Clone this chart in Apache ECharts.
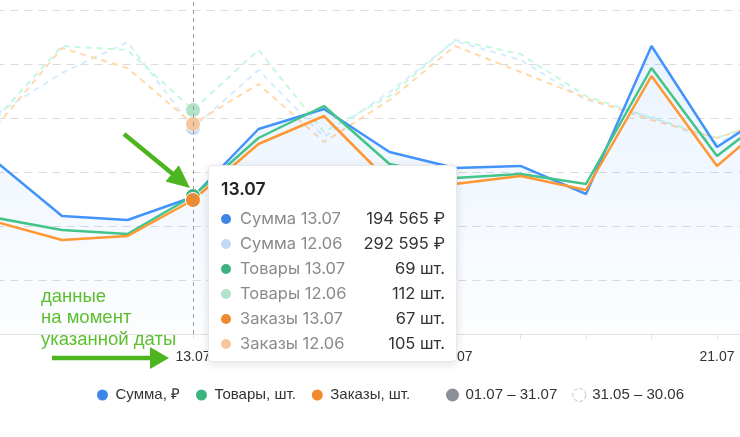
<!DOCTYPE html>
<html>
<head>
<meta charset="utf-8">
<title>Сумма, товары, заказы</title>
<script src="https://cdn.jsdelivr.net/npm/echarts@6/dist/echarts.min.js"></script>
<style>
  html, body { margin: 0; padding: 0; background: #fff; }
  #main { width: 740px; height: 437px; }
</style>
</head>
<body>
<div id="main"></div>
<script>
// дни текущего периода (01.07 – 31.07), видимый кусок
var days = ['10.07', '11.07', '12.07', '13.07', '14.07', '15.07', '16.07', '17.07', '18.07', '19.07', '20.07', '21.07', '22.07'];
// те же позиции в прошлом периоде (31.05 – 30.06)
var prevDays = ['09.06', '10.06', '11.06', '12.06', '13.06', '14.06', '15.06', '16.06', '17.06', '18.06', '19.06', '20.06', '21.06'];

var sumCur = [244200, 167600, 161900, 194565, 291100, 319500, 258400, 235700, 238600, 198800, 409000, 265500, 326600];
var sumPrev = [312400, 370600, 414600, 292595, 374900, 279700, 343600, 416100, 389100, 332300, 308100, 271200, 319500];
var goodsCur = [58, 52, 50, 69, 98, 114, 85, 78, 80, 75, 133, 89, 114];
var goodsPrev = [108, 144, 142, 112, 142, 101, 119, 147, 140, 119, 108, 98, 110];
var ordersCur = [56, 47, 49, 67, 95, 109, 76, 75, 79, 72, 129, 84, 112];
var ordersPrev = [104, 143, 133, 105, 125, 96, 117, 144, 131, 118, 107, 98, 109];

var shownIndex = 3; // 13.07

var blue = '#3d86e6', blueLight = '#c3d7f7';
var green = '#3db37f', greenLight = '#b3e2cb';
var orange = '#ef8a2e', orangeLight = '#f7c69c';
var arrowGreen = '#4cb51f';

function fmt(n) {
    return String(n).replace(/\B(?=(\d{3})+(?!\d))/g, ' ');
}

function row(color, label, value) {
    return '<div style="display:flex;align-items:center;height:25px;line-height:25px;">' +
        '<span style="flex:none;width:10px;height:10px;border-radius:50%;background:' + color + ';margin-right:9px;"></span>' +
        '<span style="flex:1;color:#8a8a8a;">' + label + '</span>' +
        '<span style="color:#333;">' + value + '</span></div>';
}

function arrow(x1, y1, x2, y2, headLen, headHalf) {
    var dx = x2 - x1, dy = y2 - y1;
    var len = Math.sqrt(dx * dx + dy * dy);
    var ux = dx / len, uy = dy / len;
    var bx = x2 - ux * headLen, by = y2 - uy * headLen;
    return [{
        type: 'line', z: 20,
        shape: { x1: x1, y1: y1, x2: bx + ux * 2, y2: by + uy * 2 },
        style: { stroke: arrowGreen, lineWidth: 4.5 }
    }, {
        type: 'polygon', z: 20,
        shape: { points: [[x2, y2], [bx - uy * headHalf, by + ux * headHalf], [bx + uy * headHalf, by - ux * headHalf]] },
        style: { fill: arrowGreen }
    }];
}

function lineSeries(name, data, color, yAxis, dashed) {
    var w = dashed ? 2 : 2.5;
    return {
        name: name,
        type: 'line',
        data: data,
        yAxisIndex: yAxis,
        color: color,
        showSymbol: false,
        symbol: 'circle',
        symbolSize: 15,
        z: dashed ? 2 : 3,
        itemStyle: { color: color, borderColor: '#fff', borderWidth: 1 },
        lineStyle: { color: color, width: w, type: dashed ? [6, 5] : 'solid' },
        emphasis: { scale: false, lineStyle: { width: w } }
    };
}

var myChart = echarts.init(document.getElementById('main'));

var sumSeries = lineSeries('Сумма, ₽', sumCur, blue, 1, false);
sumSeries.areaStyle = {
    color: new echarts.graphic.LinearGradient(0, 0, 0, 1, [
        { offset: 0, color: 'rgba(61,134,230,0.16)' },
        { offset: 1, color: 'rgba(61,134,230,0.02)' }
    ])
};

var graphics = [{
    type: 'text', z: 20,
    style: {
        x: 41, y: 286,
        text: 'данные\nна момент\nуказанной даты',
        font: '18.5px "Liberation Sans", Arial, sans-serif',
        lineHeight: 21.5,
        fill: '#5cbf2e',
        verticalAlign: 'top'
    }
}].concat(arrow(124, 134, 190, 188, 23, 10.5), arrow(52, 358, 169, 358, 19, 11));

var legendText = { color: '#333', fontSize: 15, fontFamily: '"Liberation Sans", Arial, sans-serif' };

myChart.setOption({
    animation: false,
    grid: { left: -3.5, right: -42.5, top: -44, bottom: 103, outerBoundsMode: 'none', containLabel: false },
    legend: [{
        left: 90, top: 382.5,
        icon: 'circle', itemWidth: 16, itemHeight: 13, itemGap: 14,
        textStyle: legendText,
        data: ['Сумма, ₽', 'Товары, шт.', 'Заказы, шт.']
    }, {
        left: 441, top: 382.5,
        icon: 'circle', itemWidth: 16, itemHeight: 13, itemGap: 15,
        textStyle: legendText,
        data: [
            { name: '01.07 – 31.07', itemStyle: { color: '#8a8f98' } },
            { name: '31.05 – 30.06', itemStyle: { color: '#fff', borderColor: '#c4c4c4', borderWidth: 1, borderType: 'dashed' } }
        ]
    }],
    tooltip: {
        trigger: 'axis',
        triggerOn: 'none',
        alwaysShowContent: true,
        transitionDuration: 0,
        padding: 0,
        backgroundColor: '#fff',
        borderColor: '#e6e8eb',
        borderWidth: 1,
        extraCssText: 'width:249px;height:197px;box-sizing:border-box;border-radius:4px;box-shadow:0 2px 10px rgba(0,0,0,0.12);',
        position: function () { return [208, 165]; },
        axisPointer: { type: 'line', lineStyle: { color: '#9a9a9a', type: [4, 4], width: 1 } },
        formatter: function (params) {
            var i = params[0].dataIndex;
            return '<div style="font-family:Inter, \'Noto Sans\', sans-serif;font-size:16.5px;padding:10px 11px 0 12px;">' +
                '<div style="font-size:17.5px;font-weight:600;color:#222;line-height:26px;margin-bottom:4px;">' + days[i] + '</div>' +
                row(blue, 'Сумма ' + days[i], fmt(sumCur[i]) + ' ₽') +
                row(blueLight, 'Сумма ' + prevDays[i], fmt(sumPrev[i]) + ' ₽') +
                row(green, 'Товары ' + days[i], goodsCur[i] + ' шт.') +
                row(greenLight, 'Товары ' + prevDays[i], goodsPrev[i] + ' шт.') +
                row(orange, 'Заказы ' + days[i], ordersCur[i] + ' шт.') +
                row(orangeLight, 'Заказы ' + prevDays[i], ordersPrev[i] + ' шт.') +
                '</div>';
        }
    },
    xAxis: {
        type: 'category',
        boundaryGap: false,
        data: days,
        axisLine: { lineStyle: { color: '#e2e2e2' } },
        axisTick: { interval: 0, length: 5, lineStyle: { color: '#e2e2e2' } },
        axisLabel: {
            color: '#333', fontSize: 14, margin: 16,
            fontFamily: '"Liberation Sans", Arial, sans-serif',
            interval: function (idx) { return (idx - 3) % 4 === 0; }
        }
    },
    yAxis: [{
        type: 'value', min: 0, max: 189, interval: 27,
        axisLabel: { show: false }, axisLine: { show: false }, axisTick: { show: false },
        splitLine: { lineStyle: { color: '#dcdcdc', type: [8, 6] } }
    }, {
        type: 'value', min: 0, max: 536760,
        axisLabel: { show: false }, axisLine: { show: false }, axisTick: { show: false },
        splitLine: { show: false }
    }],
    graphic: graphics,
    series: [
        lineSeries('Сумма 31.05 – 30.06', sumPrev, blueLight, 1, true),
        lineSeries('Товары 31.05 – 30.06', goodsPrev, greenLight, 0, true),
        lineSeries('Заказы 31.05 – 30.06', ordersPrev, orangeLight, 0, true),
        sumSeries,
        lineSeries('Товары, шт.', goodsCur, green, 0, false),
        lineSeries('Заказы, шт.', ordersCur, orange, 0, false),
        { name: '01.07 – 31.07', type: 'line', data: [], color: '#8a8f98' },
        { name: '31.05 – 30.06', type: 'line', data: [], color: '#fff' }
    ]
});

myChart.dispatchAction({ type: 'showTip', seriesIndex: 3, dataIndex: shownIndex });
</script>
</body>
</html>
